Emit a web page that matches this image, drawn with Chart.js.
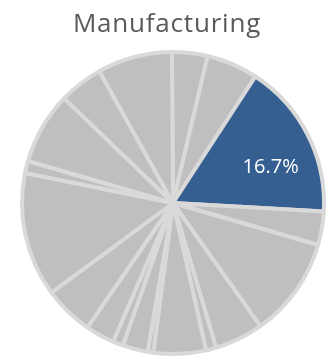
<!DOCTYPE html>
<html lang="en">
<head>
  <meta charset="UTF-8">
  <title>Manufacturing</title>
  <style>
    * { margin: 0; padding: 0; box-sizing: border-box; }
    body { background: #fff; width: 328px; height: 357px; overflow: hidden; }
    .chart-box { position: relative; width: 328px; height: 357px; }
    canvas { display: block; }
  </style>
  <script src="https://cdn.jsdelivr.net/npm/chart.js"></script>
</head>
<body>
  <div class="chart-box">
    <canvas id="pieChart" width="328" height="357"></canvas>
  </div>

  <script>
    // Chart data (share of each slice, %), clockwise from 12 o'clock
    const chartTitle = 'Manufacturing';
    const categories = ['A', 'B', 'Manufacturing', 'D', 'E', 'F', 'G', 'H', 'I',
                        'J', 'K', 'L', 'M', 'N', 'O', 'P', 'Q', 'R'];
    const shares = [3.8, 5.5, 16.7, 3.6, 10.7, 5.2, 1.1, 5.6, 0.6,
                    2.7, 1.1, 3.1, 5.3, 13.3, 1.3, 7.7, 4.7, 8.0];
    const highlightIndex = 2;

    const grey = '#bfbfbf';
    const blue = '#355f91';
    const sliceColors = categories.map((c, i) => i === highlightIndex ? blue : grey);

    // Draws the title and the percentage label on the highlighted slice
    const textPlugin = {
      id: 'textPlugin',
      afterDraw(chart) {
        const ctx = chart.ctx;
        ctx.save();
        ctx.textAlign = 'center';
        ctx.textBaseline = 'alphabetic';
        ctx.fillStyle = '#595959';
        ctx.font = '26px "Open Sans", sans-serif';
        ctx.letterSpacing = '0.8px';
        ctx.fillText(chartTitle, 167, 32);
        ctx.letterSpacing = '0px';

        const arc = chart.getDatasetMeta(0).data[highlightIndex];
        const total = shares.reduce((a, b) => a + b, 0);
        const pct = (shares[highlightIndex] / total * 100).toFixed(1) + '%';
        const mid = (arc.startAngle + arc.endAngle) / 2 + 6.4 * Math.PI / 180;
        const r = arc.outerRadius * 0.69;
        ctx.fillStyle = '#ffffff';
        ctx.font = '20px "Open Sans", sans-serif';
        ctx.textBaseline = 'middle';
        ctx.fillText(pct, arc.x + Math.cos(mid) * r, arc.y + Math.sin(mid) * r + 1);
        ctx.restore();
      }
    };

    const ctx = document.getElementById('pieChart').getContext('2d');
    new Chart(ctx, {
      type: 'pie',
      data: {
        labels: categories,
        datasets: [{
          data: shares,
          backgroundColor: sliceColors,
          borderColor: '#d9d9d9',
          borderWidth: 4,
          hoverOffset: 0
        }]
      },
      options: {
        responsive: false,
        animation: false,
        rotation: -0.4,
        layout: { padding: { left: 20, right: 2, top: 50, bottom: 1 } },
        plugins: {
          legend: { display: false },
          title: { display: false },
          tooltip: { enabled: false }
        }
      },
      plugins: [textPlugin]
    });
  </script>
</body>
</html>
